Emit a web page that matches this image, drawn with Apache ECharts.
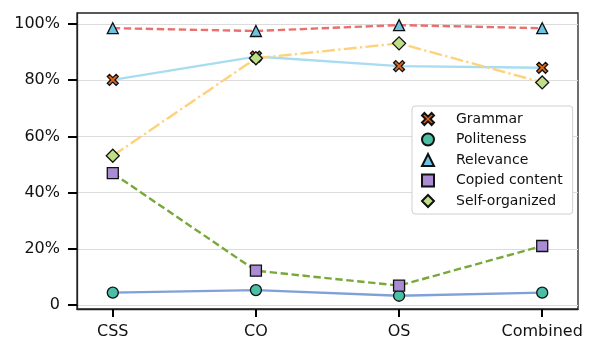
<!DOCTYPE html>
<html>
<head>
<meta charset="utf-8">
<script src="https://cdn.jsdelivr.net/npm/echarts@6/dist/echarts.min.js"></script>
<style>
  html, body { margin: 0; padding: 0; background: #fff; }
  #chart { width: 598px; height: 354px; }
</style>
</head>
<body>
<div id="chart"></div>
<script>
  var categories = ['CSS', 'CO', 'OS', 'Combined'];
  var xTicks = [0, 1, 2, 3];
  var yTicks = [0, 20, 40, 60, 80, 100];

  var grammar = [80.1, 88.4, 85.0, 84.4];
  var politeness = [4.4, 5.3, 3.3, 4.4];
  var relevance = [98.5, 97.5, 99.6, 98.5];
  var copied = [46.9, 12.2, 6.9, 21.0];
  var selfOrganized = [53.1, 87.8, 93.1, 79.2];

  var xMin = -0.25, xMax = 3.25;
  var yMin = -1.42, yMax = 103.9;

  var xPath = 'path://M2,0 L5,3 L8,0 L10,2 L7,5 L10,8 L8,10 L5,7 L2,10 L0,8 L3,5 L0,2 Z';
  var font = 'DejaVu Sans';

  function pts(arr) {
    return arr.map(function (v, i) { return [i, v]; });
  }

  function makeSeries(name, data, symbol, fill, lineColor, dash) {
    return {
      name: name,
      type: 'line',
      data: pts(data),
      symbol: symbol,
      symbolSize: symbol === 'diamond' ? 13 : 11,
      showAllSymbol: true,
      itemStyle: { color: fill, borderColor: '#111', borderWidth: 1.3 },
      lineStyle: { color: lineColor, width: 2.4, type: dash },
      emphasis: { disabled: true }
    };
  }

  var chart = echarts.init(document.getElementById('chart'));
  var option = {
    animation: false,
    backgroundColor: '#fff',
    grid: {
      left: 77, right: 20, top: 13, bottom: 45,
      show: true, borderColor: '#222', borderWidth: 1.3, backgroundColor: 'transparent'
    },
    legend: {
      left: 412, top: 106,
      orient: 'vertical',
      itemWidth: 12, itemHeight: 12, itemGap: 6.5,
      padding: [6, 10, 6, 9],
      backgroundColor: '#fff',
      borderColor: '#d0d0d0', borderWidth: 1, borderRadius: 3,
      textStyle: { fontFamily: font, fontSize: 14, color: '#111', padding: [0, 0, 0, 17] },
      data: [
        { name: 'Grammar', icon: xPath },
        { name: 'Politeness', icon: 'circle' },
        { name: 'Relevance', icon: 'triangle' },
        { name: 'Copied content', icon: 'rect' },
        { name: 'Self-organized', icon: 'diamond' }
      ]
    },
    xAxis: {
      type: 'value',
      min: xMin, max: xMax,
      axisLine: { show: true, onZero: false, lineStyle: { color: '#222', width: 1.3 } },
      axisTick: { show: true, customValues: xTicks, length: 8, lineStyle: { color: '#000', width: 2 } },
      axisLabel: {
        customValues: xTicks, margin: 15,
        fontFamily: font, fontSize: 16, color: '#111',
        formatter: function (v) { return categories[Math.round(v)]; }
      },
      splitLine: { show: false }
    },
    yAxis: {
      type: 'value',
      min: yMin, max: yMax,
      axisLine: { show: true, onZero: false, lineStyle: { color: '#222', width: 1.3 } },
      axisTick: { show: true, customValues: yTicks, length: 9, lineStyle: { color: '#000', width: 2 } },
      axisLabel: {
        customValues: yTicks, margin: 17,
        fontFamily: font, fontSize: 16, color: '#111',
        formatter: function (v) { return v === 0 ? '0' : v + '%'; }
      },
      splitLine: { show: true, lineStyle: { color: '#dcdcdc', width: 1 } }
    },
    series: [
      makeSeries('Grammar', grammar, xPath, '#d9661c', '#a8dcf0', 'solid'),
      makeSeries('Politeness', politeness, 'circle', '#4abfa6', '#82a0d8', 'solid'),
      makeSeries('Relevance', relevance, 'triangle', '#6cc3e3', '#e8716f', [7.4, 3.6]),
      makeSeries('Copied content', copied, 'rect', '#a98cd4', '#78a83a', [7.4, 3.6]),
      makeSeries('Self-organized', selfOrganized, 'diamond', '#bfdf86', '#ffd27a', [12.8, 3.4, 2.2, 3.4])
    ]
  };
  chart.setOption(option);
</script>
</body>
</html>
